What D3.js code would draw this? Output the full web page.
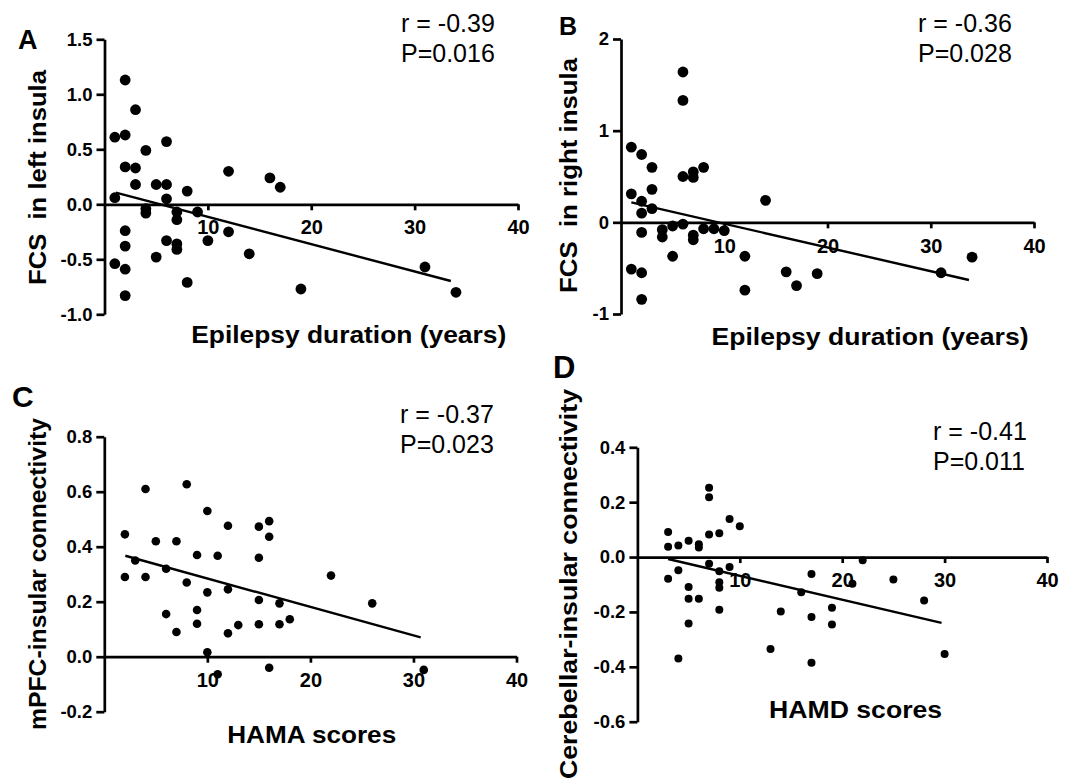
<!DOCTYPE html>
<html>
<head>
<meta charset="utf-8">
<script src="https://cdn.jsdelivr.net/npm/d3@7"></script>
<style>
  body { margin: 0; background: #fff; }
  svg { display: block; }
  text { font-family: "Liberation Sans", Arial, Helvetica, sans-serif; }
</style>
</head>
<body>
<div id="chart"></div>
<script>
// ---- data ----
const xTicks = [10, 20, 30, 40];

// A: epilepsy duration vs FCS in left insula
const durationA = [2, 3, 1, 2, 4, 6, 2, 3, 3, 5, 6, 8, 12, 16, 17, 1, 6, 4, 4, 7, 7, 9, 2, 12, 10, 6, 7, 7, 2, 5, 14, 1, 2, 8, 2, 19, 31, 34];
const fcsLeft   = [1.13, 0.86, 0.61, 0.63, 0.49, 0.57, 0.34, 0.33, 0.18, 0.18, 0.18, 0.12, 0.30, 0.24, 0.155, 0.06, 0.05, -0.04, -0.08, -0.07, -0.14, -0.07, -0.24, -0.25, -0.33, -0.33, -0.36, -0.41, -0.38, -0.48, -0.45, -0.54, -0.59, -0.71, -0.83, -0.77, -0.57, -0.80];
const fitDurA = [1.1, 33.5];
const fitFcsLeft = [0.106, -0.697];
const yTicksA = [-1.0, -0.5, 0, 0.5, 1.0, 1.5];

// B: epilepsy duration vs FCS in right insula
const durationB = [6, 6, 1, 2, 3, 3, 1, 2, 3, 2, 6, 7, 7, 8, 14, 2, 4, 4, 5, 6, 7, 7, 8, 9, 10, 5, 12, 1, 2, 2, 12, 16, 17, 19, 31, 34];
const fcsRight  = [1.64, 1.33, 0.82, 0.74, 0.60, 0.36, 0.31, 0.23, 0.15, 0.10, 0.50, 0.55, 0.49, 0.60, 0.24, -0.11, -0.08, -0.16, -0.04, -0.02, -0.14, -0.19, -0.07, -0.07, -0.09, -0.37, -0.37, -0.51, -0.55, -0.84, -0.74, -0.54, -0.69, -0.56, -0.55, -0.38];
const fitDurB = [1.0, 33.7];
const fitFcsRight = [0.218, -0.629];
const yTicksB = [-1, 0, 1, 2];

// C: HAMA scores vs mPFC-insular connectivity
const hamaC = [2, 2, 3, 4, 4, 5, 6, 6, 7, 7, 8, 8, 9, 9, 9, 10, 10, 10, 11, 11, 12, 12, 12, 13, 15, 15, 15, 15, 16, 16, 16, 17, 17, 18, 22, 26, 31];
const mpfcC = [0.445, 0.29, 0.35, 0.61, 0.29, 0.42, 0.32, 0.155, 0.42, 0.09, 0.627, 0.27, 0.37, 0.17, 0.12, 0.53, 0.234, 0.016, 0.367, -0.064, 0.476, 0.245, 0.085, 0.115, 0.473, 0.36, 0.206, 0.118, 0.493, 0.436, -0.04, 0.194, 0.118, 0.136, 0.295, 0.194, -0.048];
const fitHamaC = [2.04, 30.7];
const fitMpfcC = [0.367, 0.070];
const yTicksC = [-0.2, 0, 0.2, 0.4, 0.6, 0.8];

// D: HAMD scores vs cerebellar-insular connectivity
const hamdD = [7, 7, 9, 10, 3, 7, 8, 3, 4, 5, 6, 6, 3, 4, 7, 8, 9, 8, 8, 5, 5, 6, 8, 5, 4, 13, 14, 16, 17, 17, 17, 19, 19, 21, 22, 25, 28, 30];
const cerebD = [0.253, 0.218, 0.139, 0.112, 0.091, 0.082, 0.087, 0.038, 0.042, 0.059, 0.047, 0.035, -0.079, -0.048, -0.024, -0.052, -0.036, -0.092, -0.112, -0.109, -0.152, -0.152, -0.192, -0.242, -0.37, -0.335, -0.198, -0.128, -0.062, -0.218, -0.385, -0.185, -0.246, -0.097, -0.012, -0.082, -0.158, -0.353];
const fitHamdD = [3.0, 29.7];
const fitCerebD = [-0.007, -0.24];
const yTicksD = [-0.6, -0.4, -0.2, 0, 0.2, 0.4];

const panelLetters = ["A", "B", "C", "D"];
const xTitles = ["Epilepsy duration (years)", "Epilepsy duration (years)", "HAMA scores", "HAMD scores"];
const yTitles = ["FCS  in left insula", "FCS  in right insula", "mPFC-insular connectivity", "Cerebellar-insular connectivity"];
const rValues = ["-0.39", "-0.36", "-0.37", "-0.41"];
const pValues = ["0.016", "0.028", "0.023", "0.011"];

// ---- layout ----
const w = 1073, h = 778;

const svg = d3.select("#chart").append("svg")
  .attr("width", w)
  .attr("height", h);

const panels = [
  { xs: durationA, ys: fcsLeft, fx: fitDurA, fy: fitFcsLeft, yTicks: yTicksA, yDomain: [-1, 1.5], fmt: d => d.toFixed(1),
    xr: [104.5, 518], yr: [314.3, 39.3], r: 5.4,
    letter: [18, 49, 27], stat: [401, 32], xTitle: [348.7, 343, 315], yTitle: [45.8, 177.5, 215] },
  { xs: durationB, ys: fcsRight, fx: fitDurB, fy: fitFcsRight, yTicks: yTicksB, yDomain: [-1, 2], fmt: d => String(d),
    xr: [621, 1034], yr: [314, 39], r: 5.4,
    letter: [559, 35, 25], stat: [918, 32], xTitle: [870, 345, 317], yTitle: [576.7, 175.5, 235] },
  { xs: hamaC, ys: mpfcC, fx: fitHamaC, fy: fitMpfcC, yTicks: yTicksC, yDomain: [-0.2, 0.8], fmt: d => d.toFixed(1),
    xr: [104.3, 516.5], yr: [711.7, 436.7], r: 4.3,
    letter: [12, 407, 30], stat: [400, 423], xTitle: [311.7, 743, 169], yTitle: [45.8, 574, 312] },
  { xs: hamdD, ys: cerebD, fx: fitHamdD, fy: fitCerebD, yTicks: yTicksD, yDomain: [-0.6, 0.4], fmt: d => d.toFixed(1),
    xr: [637.4, 1047], yr: [721.7, 447.3], r: 4,
    letter: [553, 378, 31], stat: [933, 440], xTitle: [855.6, 718, 173], yTitle: [576.7, 584, 390] }
];

panels.forEach((p, i) => {
  const x = d3.scaleLinear().domain([0, 40]).range(p.xr);
  const y = d3.scaleLinear().domain(p.yDomain).range(p.yr);
  const g = svg.append("g");

  // y axis
  g.append("g")
    .attr("transform", `translate(${p.xr[0]},0)`)
    .call(d3.axisLeft(y).tickValues(p.yTicks).tickFormat(p.fmt).tickSize(8).tickPadding(4).tickSizeOuter(0))
    .call(styleAxis, 18.5);

  // x axis runs along y = 0
  g.append("g")
    .attr("transform", `translate(0,${y(0)})`)
    .call(d3.axisBottom(x).tickValues(xTicks).tickFormat(d3.format("d")).tickSize(6).tickPadding(10).tickSizeOuter(0))
    .call(styleAxis, 20);

  // points
  g.append("g").selectAll("circle")
    .data(p.xs.map((d, j) => [d, p.ys[j]]))
    .join("circle")
      .attr("cx", d => x(d[0]))
      .attr("cy", d => y(d[1]))
      .attr("r", p.r)
      .attr("fill", "#000");

  // regression line
  g.append("path")
    .datum(p.fx.map((d, j) => [d, p.fy[j]]))
    .attr("d", d3.line().x(d => x(d[0])).y(d => y(d[1])))
    .attr("fill", "none")
    .attr("stroke", "#000")
    .attr("stroke-width", 2.4);

  // panel letter
  g.append("text")
    .attr("x", p.letter[0])
    .attr("y", p.letter[1])
    .attr("font-size", p.letter[2])
    .attr("font-weight", "bold")
    .text(panelLetters[i]);

  // r / P
  g.append("text")
    .attr("x", p.stat[0])
    .attr("y", p.stat[1])
    .attr("font-size", 25)
    .text("r = " + rValues[i]);
  g.append("text")
    .attr("x", p.stat[0])
    .attr("y", p.stat[1] + 30)
    .attr("font-size", 25)
    .text("P=" + pValues[i]);

  // axis titles
  g.append("text")
    .attr("x", p.xTitle[0])
    .attr("y", p.xTitle[1])
    .attr("text-anchor", "middle")
    .attr("font-size", 24)
    .attr("font-weight", "bold")
    .attr("textLength", p.xTitle[2])
    .attr("lengthAdjust", "spacingAndGlyphs")
    .text(xTitles[i]);

  g.append("text")
    .attr("transform", `translate(${p.yTitle[0]},${p.yTitle[1]}) rotate(-90)`)
    .attr("text-anchor", "middle")
    .attr("font-size", 24)
    .attr("font-weight", "bold")
    .attr("textLength", p.yTitle[2])
    .attr("lengthAdjust", "spacingAndGlyphs")
    .style("white-space", "pre")
    .text(yTitles[i]);
});

function styleAxis(a, size) {
  a.attr("font-family", null).attr("font-size", null);
  a.selectAll("path, line")
    .attr("stroke", "#000")
    .attr("stroke-width", 2.7);
  a.selectAll("text")
    .attr("fill", "#000")
    .attr("font-size", size)
    .attr("font-weight", "bold");
}
</script>
</body>
</html>
